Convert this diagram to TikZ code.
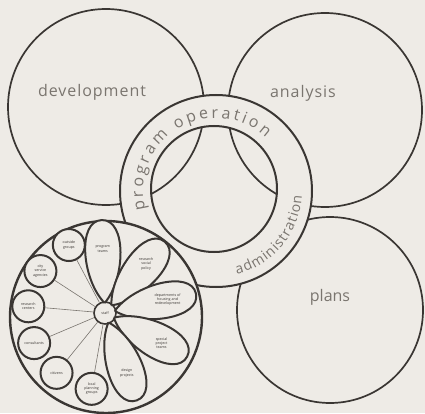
\documentclass[tikz,border=0pt]{standalone}
\usepackage{fontspec}
\setmainfont{Open Sans}
\usetikzlibrary{decorations.text}

\definecolor{paper}{HTML}{EEEBE6}
\definecolor{ink}{HTML}{3A3633}
\definecolor{pencil}{HTML}{7A756F}

\tikzset{
  area/.style={circle,draw=ink,line width=1.7pt,inner sep=0pt},
  label/.style={text=pencil,font=\fontsize{16}{18}\selectfont},
  petal/.style={draw=ink,fill=paper,line width=2pt},
  tiny/.style={text=ink,align=center,font=\fontsize{3.6}{4.2}\selectfont,inner sep=0pt},
  satellite/.style={circle,draw=ink,fill=paper,line width=2pt,minimum size=32pt,inner sep=0pt,tiny},
  spoke/.style={draw=pencil,line width=0.6pt},
}

\begin{document}
\begin{tikzpicture}[x=1pt,y=1pt]
  \fill[paper] (0,0) rectangle (425,413);
  \useasboundingbox (0,0) rectangle (425,413);

  % the three big areas
  \node[area,minimum size=196pt] (development) at (106,306) {};
  \node[area,minimum size=194pt] (analysis) at (325,303) {};
  \node[area,minimum size=186pt] (plans) at (330,103) {};

  \node[label] (devtext) at (92,321) {\addfontfeature{LetterSpace=6}development};
  \node[label] (antext) at (303,320) {\addfontfeature{LetterSpace=6}analysis};
  \node[label] (platext) at (330,116) {plans};

  % ring of program operation / administration
  \coordinate (ringc) at (216,222);
  \coordinate (innerc) at (214,224);
  \fill[paper,even odd rule] (ringc) circle (96) (innerc) circle (63);
  \draw[ink,line width=2pt] (ringc) circle (96);
  \draw[ink,line width=2pt] (innerc) circle (63);
  \path[decorate,decoration={text along path,text align=fit to path,
      text={|\fontsize{16}{18}\selectfont\color{pencil}|program operation}}]
    ([shift={(195:73)}]ringc) arc[start angle=195,end angle=47,radius=73];
  \path[decorate,decoration={text along path,text align=fit to path,
      text={|\fontsize{14}{16}\selectfont\color{pencil}|administration}}]
    ([shift={(-76:86)}]ringc) arc[start angle=-76,end angle=-3,radius=86];

  % the wheel
  \node[circle,draw=ink,fill=paper,line width=2.4pt,minimum size=192pt] (wheel) at (106,96) {};
  \node[circle,draw=ink,fill=paper,line width=1.6pt,minimum size=22pt,inner sep=0pt,tiny] (hub) at (105,100) {staff};

  \foreach \ang/\txt in {92/{program\\teams}, 50/{research\\social\\policy},
      12/{departments of\\housing and\\redevelopment}, -28/{special\\project\\teams},
      -70/{design\\projects}}{
    \draw[petal,shift={(hub)},rotate=\ang]
      (10,0) .. controls (34,22) and (93,25) .. (93,0)
             .. controls (93,-25) and (34,-22) .. (10,0);
    \node[tiny] at ([shift={(\ang:64)}]hub) {\txt};
  }

  \foreach \ang/\name/\txt in {118/s1/{outside\\groups}, 147/s2/{city\\service\\agencies},
      175/s3/{research\\centers}, 203/s4/{consultants}, 231/s5/{citizens},
      260/s6/{local\\planning\\groups}}{
    \node[satellite] (\name) at ([shift={(\ang:77)}]hub) {\txt};
    \draw[spoke] (hub) -- (\name);
  }
\end{tikzpicture}
\end{document}
